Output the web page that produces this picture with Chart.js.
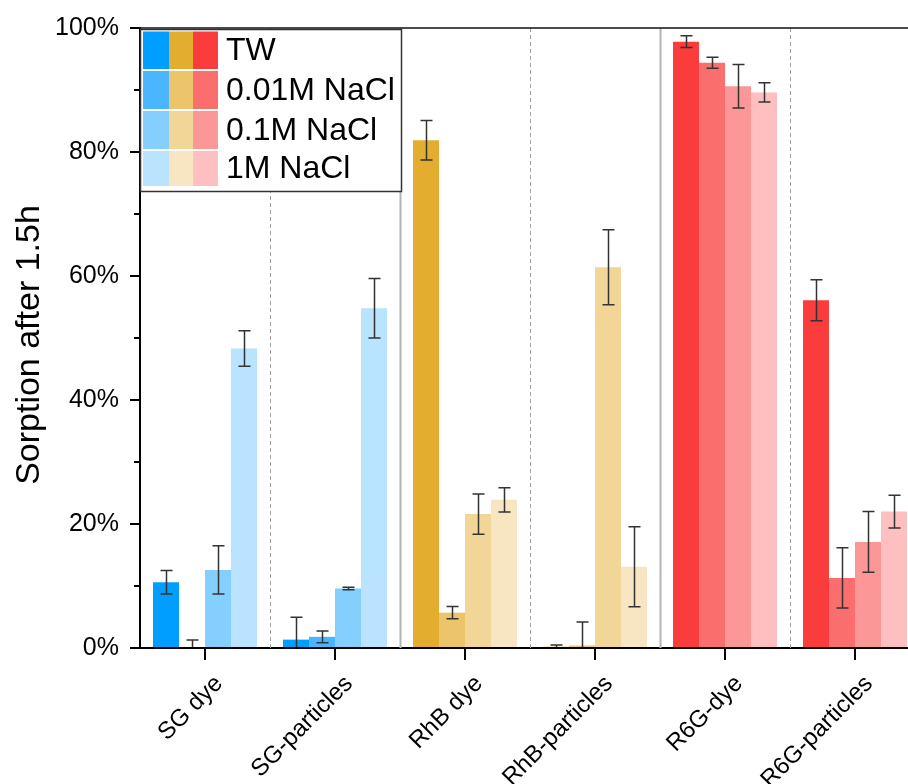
<!DOCTYPE html>
<html>
<head>
<meta charset="utf-8">
<script src="https://cdn.jsdelivr.net/npm/chart.js@4.4.1/dist/chart.umd.min.js"></script>
<style>
  html, body { margin: 0; padding: 0; overflow: hidden; background: #fff; width: 908px; height: 784px; }
  canvas { display: block; }
</style>
</head>
<body>
<canvas id="c" width="920" height="784"></canvas>
<script>
// Sorption of dyes / dye-loaded particles after 1.5 h in tap water and NaCl solutions
const categories = ['SG dye', 'SG-particles', 'RhB dye', 'RhB-particles', 'R6G-dye', 'R6G-particles'];
const seriesNames = ['TW', '0.01M NaCl', '0.1M NaCl', '1M NaCl'];
const yTitle = 'Sorption after 1.5h';

// mean sorption (%)
const valuesTW    = [10.6, 1.35, 81.9, 0.2, 97.8, 56.1];
const values001M  = [0.0, 1.8, 5.7, 0.4, 94.4, 11.3];
const values01M   = [12.6, 9.6, 21.6, 61.4, 90.6, 17.1];
const values1M    = [48.3, 54.8, 23.9, 13.1, 89.6, 22.0];

// standard deviations (%)
const errorsTW    = [1.9, 3.6, 3.2, 0.3, 0.95, 3.3];
const errors001M  = [1.3, 0.95, 1.0, 3.8, 0.9, 4.85];
const errors01M   = [3.9, 0.2, 3.25, 6.05, 3.5, 4.9];
const errors1M    = [2.85, 4.8, 1.95, 6.45, 1.55, 2.65];

const yTicks = [0, 20, 40, 60, 80, 100];

// shade per salt level, one palette per dye
const blueShades   = ['#009eff', '#4ab6ff', '#85cfff', '#b9e3ff'];
const orangeShades = ['#e3ae30', '#ebc46b', '#f2d698', '#f8e6c3'];
const redShades    = ['#fa3c3c', '#fa6e6e', '#fb9797', '#fdbfbf'];
const palettes = [blueShades, orangeShades, redShades];

const seriesValues = [valuesTW, values001M, values01M, values1M];
const seriesErrors = [errorsTW, errors001M, errors01M, errors1M];

const FONT = '"Liberation Sans", Arial, Helvetica, sans-serif';

const datasets = seriesNames.map((name, s) => ({
  label: name,
  data: seriesValues[s],
  errors: seriesErrors[s],
  backgroundColor: categories.map((_, i) => palettes[Math.floor(i / 2)][s]),
  borderWidth: 0,
  barPercentage: 1.0,
  categoryPercentage: 0.8
}));

// separators between categories: dashed inside a dye, solid between dyes
const separatorPlugin = {
  id: 'separators',
  beforeDatasetsDraw(chart) {
    const { ctx, chartArea: a, scales: { x } } = chart;
    const step = x.getPixelForValue(1) - x.getPixelForValue(0);
    ctx.save();
    for (let i = 0; i < categories.length - 1; i++) {
      const px = Math.round(x.getPixelForValue(i) + step / 2) + 0.5;
      const solid = (i % 2 === 1);
      ctx.beginPath();
      ctx.strokeStyle = solid ? '#b4b4b4' : '#a0a0a0';
      ctx.lineWidth = solid ? 2 : 1;
      ctx.setLineDash(solid ? [] : [4, 3]);
      ctx.moveTo(px, a.top);
      ctx.lineTo(px, a.bottom);
      ctx.stroke();
    }
    ctx.restore();
  }
};

// error bars from the dataset errors
const errorBarPlugin = {
  id: 'errorBars',
  afterDatasetsDraw(chart) {
    const { ctx, chartArea: a, scales: { y } } = chart;
    ctx.save();
    ctx.beginPath();
    ctx.rect(a.left, a.top - 5, a.right - a.left, a.bottom - a.top + 4);
    ctx.clip();
    ctx.strokeStyle = '#333';
    ctx.lineWidth = 1.5;
    chart.data.datasets.forEach((ds, di) => {
      chart.getDatasetMeta(di).data.forEach((bar, i) => {
        const v = ds.data[i], e = ds.errors[i];
        const yt = y.getPixelForValue(v + e);
        const yb = y.getPixelForValue(v - e);
        const cx = Math.round(bar.x) + 0.5;
        ctx.beginPath();
        ctx.moveTo(cx, yt); ctx.lineTo(cx, yb);
        ctx.moveTo(cx - 6, yt); ctx.lineTo(cx + 6, yt);
        ctx.moveTo(cx - 6, yb); ctx.lineTo(cx + 6, yb);
        ctx.stroke();
      });
    });
    ctx.restore();
  }
};

// frame line on top, minor y ticks, axis title, rotated category labels, legend
const decorPlugin = {
  id: 'decor',
  afterDraw(chart) {
    const { ctx, chartArea: a, scales: { x, y } } = chart;
    ctx.save();
    // top frame line
    ctx.strokeStyle = '#111';
    ctx.lineWidth = 1.5;
    ctx.beginPath();
    ctx.moveTo(a.left - 1, a.top);
    ctx.lineTo(a.right, a.top);
    ctx.stroke();

    // minor ticks halfway between labelled ticks
    ctx.lineWidth = 2;
    ctx.strokeStyle = '#000';
    for (let k = 0; k < yTicks.length - 1; k++) {
      const py = Math.round(y.getPixelForValue((yTicks[k] + yTicks[k + 1]) / 2));
      ctx.beginPath();
      ctx.moveTo(a.left - 6, py);
      ctx.lineTo(a.left, py);
      ctx.stroke();
    }

    // y axis title
    ctx.fillStyle = '#000';
    ctx.font = '34px ' + FONT;
    ctx.textAlign = 'center';
    ctx.textBaseline = 'middle';
    ctx.save();
    ctx.translate(30, y.getPixelForValue(50) + 7);
    ctx.rotate(-Math.PI / 2);
    ctx.fillText(yTitle, 0, 0);
    ctx.restore();

    // category labels at 45 degrees
    ctx.font = '24px ' + FONT;
    ctx.textAlign = 'right';
    ctx.textBaseline = 'middle';
    categories.forEach((lab, i) => {
      const px = x.getPixelForValue(i);
      ctx.save();
      ctx.translate(px + 14, a.bottom + 32);
      ctx.rotate(-Math.PI / 4);
      ctx.fillText(lab, 0, 0);
      ctx.restore();
    });

    // legend: three swatches (one per dye) for each salt level
    const lx = 140, ly = 29, lw = 261, lh = 162;
    ctx.fillStyle = '#fff';
    ctx.fillRect(lx, ly, lw, lh);
    const colX = [143, 169, 193, 218];
    const rowY = [31.5, 71, 111, 151, 188];
    chart.data.datasets.forEach((ds, s) => {
      for (let c = 0; c < 3; c++) {
        ctx.fillStyle = palettes[c][s];
        ctx.fillRect(colX[c], rowY[s], colX[c + 1] - colX[c], rowY[s + 1] - rowY[s] - 2);
      }
      ctx.fillStyle = '#000';
      ctx.font = '32px ' + FONT;
      ctx.textAlign = 'left';
      ctx.textBaseline = 'middle';
      ctx.fillText(ds.label, 226, (rowY[s] + rowY[s + 1] - 2) / 2 + 1);
    });
    ctx.strokeStyle = '#333';
    ctx.lineWidth = 1.5;
    ctx.strokeRect(lx + 0.5, ly + 0.5, lw, lh);
    ctx.restore();
  }
};

new Chart(document.getElementById('c'), {
  type: 'bar',
  data: { labels: categories, datasets },
  options: {
    responsive: false,
    animation: false,
    devicePixelRatio: 1,
    layout: { padding: { top: 28, right: 0, bottom: 0, left: 0 } },
    plugins: { legend: { display: false }, tooltip: { enabled: false } },
    scales: {
      x: {
        ticks: { display: false },
        grid: { offset: false, drawOnChartArea: false, tickLength: 12, color: '#000', lineWidth: 2 },
        border: { color: '#000', width: 2 },
        afterFit(s) { s.height = 136; }
      },
      y: {
        min: 0,
        max: 100,
        afterBuildTicks(s) { s.ticks = yTicks.map(v => ({ value: v })); },
        ticks: { callback: v => v + '%', color: '#000', font: { family: FONT, size: 25 }, padding: 11 },
        grid: { drawOnChartArea: false, tickLength: 10, color: '#000', lineWidth: 2 },
        border: { color: '#000', width: 2 },
        title: { display: false },
        afterFit(s) { s.width = 140; }
      }
    }
  },
  plugins: [separatorPlugin, errorBarPlugin, decorPlugin]
});
</script>
</body>
</html>
